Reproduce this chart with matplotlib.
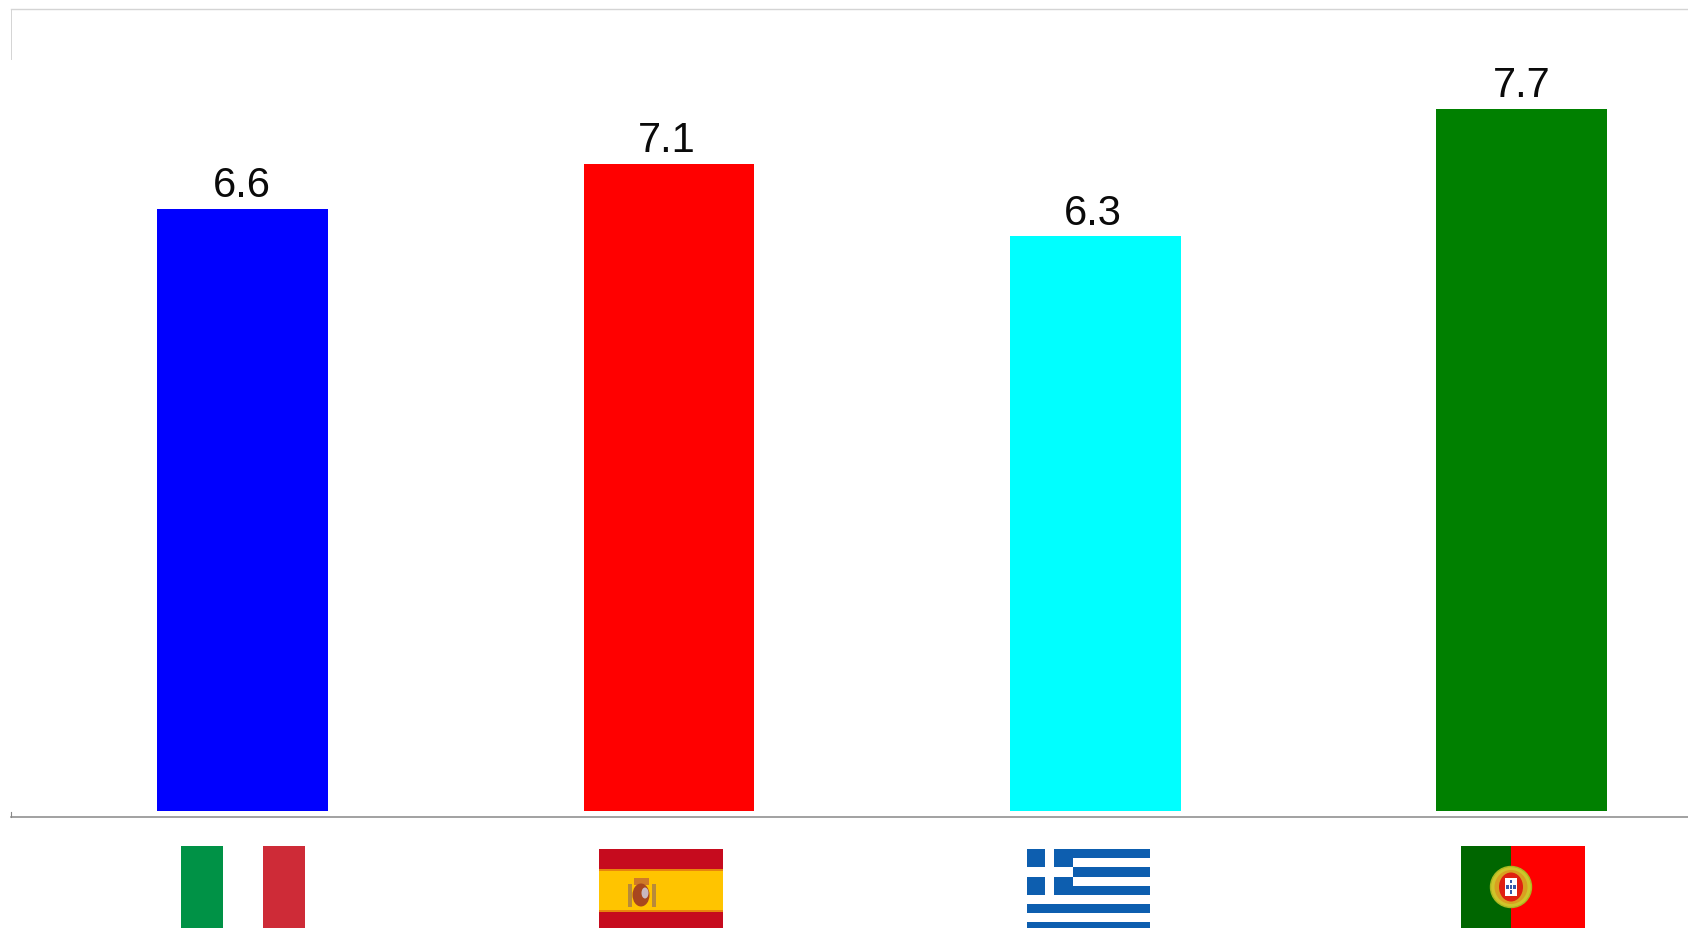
import matplotlib
matplotlib.use('Agg')
import matplotlib.pyplot as plt
from matplotlib.patches import Ellipse, Rectangle

W, H = 1688, 928

COUNTRIES = ['Italy', 'Spain', 'Greece', 'Portugal']
VALUES = [6.6, 7.1, 6.3, 7.7]
BAR_COLORS = ['#0000ff', '#ff0000', '#00ffff', '#008000']
LABEL_SHIFT = [0, -2, -2, 0]


def box(ax, x0, y0, x1, y1, color, zorder=2):
    ax.add_patch(Rectangle((x0, y0), x1 - x0, y1 - y0, facecolor=color,
                           edgecolor='none', zorder=zorder))


def italy(ax):
    box(ax, 181, 846, 223, H, '#009246')
    box(ax, 263, 846, 305, H, '#ce2b37')


def spain(ax):
    box(ax, 599, 849, 723, H, '#c60b1e')
    box(ax, 599, 870, 723, 912, '#ffc400')
    box(ax, 599, 869.5, 723, 871.5, '#e8850c', 3)
    box(ax, 599, 910.5, 723, 912.5, '#e8850c', 3)
    # coat of arms, roughly
    box(ax, 628, 884, 632, 907, '#b88a3a', 3)
    box(ax, 652, 884, 656, 907, '#b88a3a', 3)
    box(ax, 634, 878, 649, 885, '#cf7a28', 3)
    ax.add_patch(Ellipse((641, 895), 17, 23, facecolor='#a8471e',
                         edgecolor='none', zorder=3))
    ax.add_patch(Ellipse((645, 893), 7, 11, facecolor='#c9b8c0',
                         edgecolor='none', zorder=4))


def greece(ax):
    blue = '#0d5eaf'
    for y0, y1 in [(849, 858.3), (867.3, 876.7), (885.7, 895),
                   (904, 913.3), (922.3, H)]:
        box(ax, 1027, y0, 1150, y1, blue)
    box(ax, 1027, 849, 1073, 895, blue, 3)
    box(ax, 1045.4, 849, 1054.2, 895, 'white', 4)
    box(ax, 1027, 867.3, 1073, 876.7, 'white', 4)


def portugal(ax):
    box(ax, 1461, 846, 1511, H, '#006600')
    box(ax, 1511, 846, 1585, H, '#ff0000')
    ax.add_patch(Ellipse((1511, 887), 41, 41, facecolor='#cfc52a',
                         edgecolor='#a8b820', lw=1, zorder=3))
    ax.add_patch(Ellipse((1511, 887), 33, 34, facecolor='#d8a020',
                         edgecolor='none', zorder=3))
    ax.add_patch(Ellipse((1511, 887), 24, 29, facecolor='#e02010',
                         edgecolor='none', zorder=4))
    box(ax, 1505, 878, 1517, 896, 'white', 5)
    for cx, cy in [(1511, 881.5), (1507.5, 887), (1511, 887),
                   (1514.5, 887), (1511, 892)]:
        box(ax, cx - 1.3, cy - 1.6, cx + 1.3, cy + 1.6, '#3858a8', 6)


fig = plt.figure(figsize=(W / 100, (H + 0.1) / 100), dpi=100, facecolor='white')

# axes box in pixels: left 11, right edge of figure, top 9.5, bottom 817.3
ax = fig.add_axes([11 / W, 1 - 817.3 / H, 1 - 11 / W, (817.3 - 9.5) / H])
positions = range(len(VALUES))
bars = ax.bar(positions, VALUES, width=0.4, color=BAR_COLORS, zorder=2)

ax.set_xlim(-0.5425, 3.39)
ax.set_ylim(-0.068, 8.79)
ax.set_xticks([])
ax.set_yticks([])

for rect, value, shift in zip(bars, VALUES, LABEL_SHIFT):
    ax.annotate(f'{value:.1f}', (rect.get_x() + rect.get_width() / 2, value),
                xytext=(shift * 0.72, 8.6), textcoords='offset points',
                ha='center', va='baseline', fontsize=30, color='#0a0a0a',
                family='Liberation Sans')

ax.spines['right'].set_visible(False)
ax.spines['top'].set_color('#d4d4d4')
ax.spines['top'].set_linewidth(1.0)
ax.spines['bottom'].set_color('#888888')
ax.spines['bottom'].set_linewidth(1.1)
ax.spines['left'].set_color('#888888')
ax.spines['left'].set_linewidth(0.8)
ax.spines['left'].set_bounds(-0.068, -0.01)
# upper stub of the y axis line
ax.axvline(-0.5425, ymin=1 - 50 / 807.8, ymax=1, color='#d4d4d4', lw=1.4)

# flags under the axis, drawn in figure pixels
flags = fig.add_axes([0, 0, 1, 1], facecolor='none')
flags.set_xlim(0, W)
flags.set_ylim(H, 0)
flags.axis('off')
for draw in (italy, spain, greece, portugal):
    draw(flags)

fig.savefig('out.png', dpi=100)
